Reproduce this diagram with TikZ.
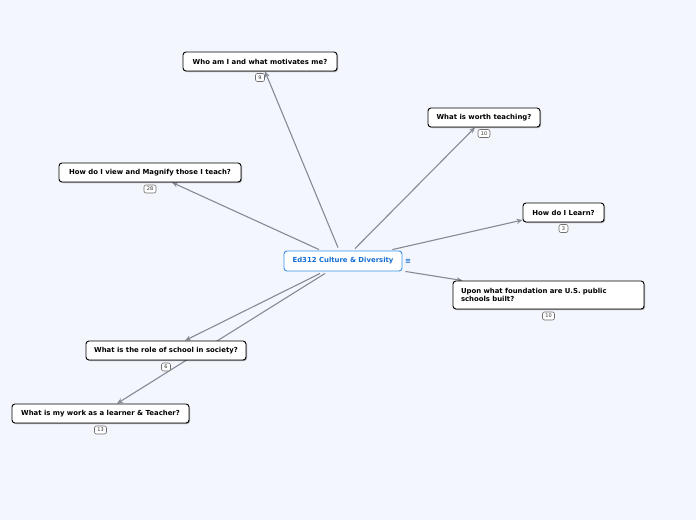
\documentclass[tikz,border=0pt]{standalone}
\usepackage{fontspec}
\setmainfont{DejaVu Sans}
\usetikzlibrary{arrows.meta,shadows,calc}
\pgfdeclarelayer{background}
\pgfsetlayers{background,main}
\definecolor{bgc}{RGB}{243,246,253}
\definecolor{linec}{RGB}{135,138,148}
\definecolor{cborder}{RGB}{55,145,230}
\definecolor{ctext}{RGB}{20,110,210}
\definecolor{badgec}{RGB}{110,110,110}
\tikzset{
  topic/.style={draw=black, line width=0.9pt, fill=white, rounded corners=3pt,
    inner sep=0pt, minimum height=19pt, font=\bfseries\fontsize{6.9}{8}\selectfont,
    drop shadow={shadow xshift=1pt, shadow yshift=-1pt, opacity=0.35, fill=black}},
  central/.style={draw=cborder, line width=0.9pt, fill=white, rounded corners=3pt,
    inner sep=0pt, minimum height=20pt, minimum width=118pt, text=ctext,
    font=\bfseries\fontsize{6.9}{8}\selectfont},
  badge/.style={draw=badgec, line width=0.6pt, fill=white, rounded corners=2pt,
    inner sep=0pt, minimum height=8pt, font=\fontsize{5}{5.5}\selectfont, text=black!80},
  conn/.style={draw=linec, line width=1.1pt, -{Stealth[length=6pt,width=5pt]}}
}
\begin{document}
\begin{tikzpicture}[x=1pt,y=-1pt]
\begin{pgfonlayer}{background}
\fill[bgc] (0,0) rectangle (696,520);
\end{pgfonlayer}
\useasboundingbox (0,0) rectangle (696,520);

% central
\node[central] (c) at (343,261) {Ed312 Culture \& Diversity};
\node[text=ctext, font=\bfseries\fontsize{7}{8}\selectfont, inner sep=0pt] (cicon) at (408,261) {≡};

% topics
\node[topic, minimum width=154pt] (who) at (260,61.5) {Who am I and what motivates me?};
\node[topic, minimum width=112pt] (worth) at (484,117.5) {What is worth teaching?};
\node[topic, minimum width=182pt] (view) at (150,172.5) {How do I view and Magnify those I teach?};
\node[topic, minimum width=81pt] (learn) at (563.5,212.5) {How do I Learn?};
\node[topic, minimum width=191pt, minimum height=28pt, align=left, text width=175pt] (upon) at (548.5,295) {Upon what foundation are U.S. public\\schools built?};
\node[topic, minimum width=160pt] (role) at (166,350.5) {What is the role of school in society?};
\node[topic, minimum width=177pt] (work) at (100.5,413.5) {What is my work as a learner \& Teacher?};

% badges
\node[badge, minimum width=9pt] (bwho) at (260,77.5) {9};
\node[badge, minimum width=12pt] (bworth) at (484,133.5) {10};
\node[badge, minimum width=12pt] (bview) at (150,189) {28};
\node[badge, minimum width=9pt] (blearn) at (563.5,228.5) {3};
\node[badge, minimum width=12pt] (bupon) at (548.5,316) {10};
\node[badge, minimum width=9pt] (brole) at (166,367) {6};
\node[badge, minimum width=12pt] (bwork) at (100.5,430) {13};

% connector start points on central node
\coordinate (s1) at ($(c.north)+(-5,-3)$);
\coordinate (s2) at ($(c.north)+(12,-2)$);
\coordinate (s3) at ($(c.north)+(-24,-1)$);
\coordinate (s4) at ($(c.north east)+(-10,-1)$);
\coordinate (s5) at ($(c.south east)+(3,0)$);
\coordinate (s6) at ($(c.south)+(-23,2)$);
\coordinate (s7) at ($(c.south)+(-18,2)$);

\begin{pgfonlayer}{background}
\draw[conn] (s1) -- ($(who.south)+(5,0)$);
\draw[conn] (s2) -- ($(worth.south)+(-9,0)$);
\draw[conn] (s3) -- ($(view.south)+(22,0)$);
\draw[conn] (s4) -- ($(learn.west)+(0,7.5)$);
\draw[conn] (s5) -- ($(upon.north west)+(10,0)$);
\draw[conn] (s6) -- ($(role.north)+(19,0)$);
\draw[conn] (s7) -- ($(work.north)+(16.5,0)$);
\end{pgfonlayer}
\end{tikzpicture}
\end{document}
